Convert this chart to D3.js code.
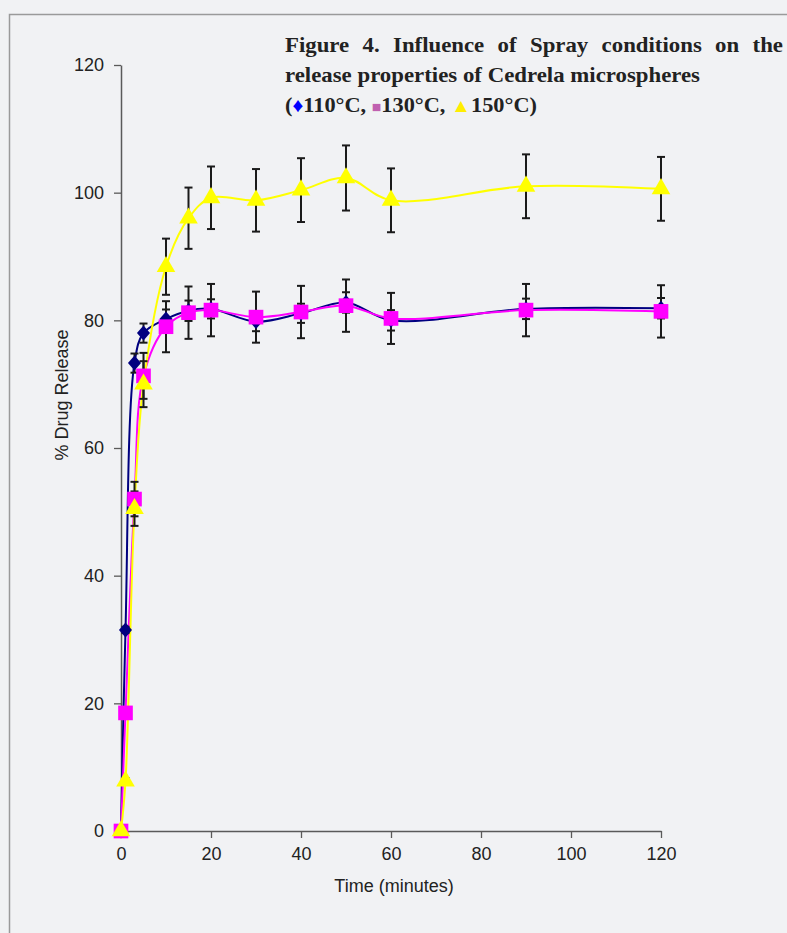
<!DOCTYPE html>
<html>
<head>
<meta charset="utf-8">
<script src="https://cdn.jsdelivr.net/npm/d3@7"></script>
<style>
  body { margin: 0; background: #f1f2f4; }
  svg { display: block; }
</style>
</head>
<body>
<svg></svg>
<script>
var width = 787;
var height = 933;

// sampling times (minutes)
var times = [0, 1, 3, 5, 10, 15, 20, 30, 40, 50, 60, 90, 120];

// % drug release for each spray temperature
var rel110 = [0, 31.5, 73.3, 78.0, 80.2, 81.5, 81.8, 79.8, 81.1, 82.8, 80.0, 81.8, 81.9];
var rel130 = [0, 18.5, 52.0, 71.3, 79.0, 81.2, 81.6, 80.5, 81.3, 82.3, 80.3, 81.6, 81.4];
var rel150 = [0, 7.8, 50.5, 70.0, 88.4, 96.0, 99.2, 98.8, 100.4, 102.3, 98.8, 101.0, 100.6];

// error bars (+/-)
var err110 = [0, 0.5, 1.5, 1.5, 1.5, 1.6, 1.5, 1.5, 1.5, 1.6, 1.6, 1.6, 1.6];
var err130 = [0, 0.5, 2.7, 3.6, 4.0, 4.1, 4.1, 4.0, 4.1, 4.1, 4.0, 4.1, 4.1];
var err150 = [0, 0.5, 2.7, 3.6, 4.4, 4.8, 4.9, 4.9, 5.0, 5.1, 5.0, 5.0, 5.0];

var xTicks = [0, 20, 40, 60, 80, 100, 120];
var yTicks = [0, 20, 40, 60, 80, 100, 120];

var titleLines = [
  "Figure 4. Influence of Spray conditions on the",
  "release properties of Cedrela microspheres"
];

// Excel-style diamond: a little wider than d3's
var wideDiamond = {
  draw: function (context, size) {
    var h = Math.sqrt(size) * 0.75, w = h * 0.87;
    context.moveTo(0, -h);
    context.lineTo(w, 0);
    context.lineTo(0, h);
    context.lineTo(-w, 0);
    context.closePath();
  }
};

var series = [
  { name: "110°C", values: rel110, errs: err110, color: "#000080", shape: wideDiamond, size: 100 },
  { name: "130°C", values: rel130, errs: err130, color: "#ff00ff", shape: d3.symbolSquare, size: 215 },
  { name: "150°C", values: rel150, errs: err150, color: "#ffff00", shape: d3.symbolTriangle, size: 150 }
];

var svg = d3.select("svg")
            .attr("width", width)
            .attr("height", height);

svg.append("rect")
    .attr("width", width)
    .attr("height", height)
    .attr("fill", "#f1f2f4");

// frame
svg.append("path")
    .attr("d", "M9.5," + height + "V14.5H" + width)
    .attr("fill", "none")
    .attr("stroke", "#9a9a9a")
    .attr("stroke-width", 1.5);

var xScale = d3.scaleLinear()
                .domain([0, 120])
                .range([121, 661]);

var yScale = d3.scaleLinear()
                .domain([0, 120])
                .range([831, 65]);

var xAxis = d3.axisBottom(xScale)
              .tickValues(xTicks)
              .tickSize(7)
              .tickPadding(9)
              .tickSizeOuter(0);

var yAxis = d3.axisLeft(yScale)
              .tickValues(yTicks)
              .tickSize(7)
              .tickPadding(10)
              .tickSizeOuter(0);

var gx = svg.append("g")
    .attr("transform", "translate(0,831)")
    .call(xAxis);

var gy = svg.append("g")
    .attr("transform", "translate(121,0)")
    .call(yAxis);

[gx, gy].forEach(function (g) {
  g.select(".domain").attr("stroke", "#5a5a5a").attr("stroke-width", 1.5);
  g.selectAll(".tick line").attr("stroke", "#5a5a5a").attr("stroke-width", 1.3);
  g.selectAll(".tick text")
    .attr("font-family", "'Liberation Sans', Arial, sans-serif")
    .attr("font-size", 18)
    .attr("fill", "#222");
});

// lines
var line = d3.line()
             .x(function (d) { return xScale(d.t); })
             .y(function (d) { return yScale(d.v); })
             .curve(d3.curveCatmullRom.alpha(0.5));

series.forEach(function (s) {
  s.points = times.map(function (t, i) { return { t: t, v: s.values[i], e: s.errs[i] }; });
});

series.forEach(function (s) {
  svg.append("path")
      .datum(s.points)
      .attr("d", line)
      .attr("fill", "none")
      .attr("stroke", s.color)
      .attr("stroke-width", 2);
});

// error bars
series.forEach(function (s) {
  var g = svg.append("g")
      .attr("stroke", "#1a1a1a")
      .attr("stroke-width", 2)
      .attr("fill", "none");
  var bars = g.selectAll("g")
      .data(s.points.filter(function (d) { return d.e > 0; }))
      .enter()
      .append("g");
  bars.append("line")
      .attr("x1", function (d) { return xScale(d.t); })
      .attr("x2", function (d) { return xScale(d.t); })
      .attr("y1", function (d) { return yScale(d.v + d.e); })
      .attr("y2", function (d) { return yScale(d.v - d.e); });
  bars.append("line")
      .attr("x1", function (d) { return xScale(d.t) - 4; })
      .attr("x2", function (d) { return xScale(d.t) + 4; })
      .attr("y1", function (d) { return yScale(d.v + d.e); })
      .attr("y2", function (d) { return yScale(d.v + d.e); });
  bars.append("line")
      .attr("x1", function (d) { return xScale(d.t) - 4; })
      .attr("x2", function (d) { return xScale(d.t) + 4; })
      .attr("y1", function (d) { return yScale(d.v - d.e); })
      .attr("y2", function (d) { return yScale(d.v - d.e); });
});

// markers
series.forEach(function (s) {
  svg.append("g")
    .selectAll("path")
    .data(s.points)
    .enter()
    .append("path")
      .attr("transform", function (d) {
        return "translate(" + xScale(d.t) + "," + yScale(d.v) + ")";
      })
      .attr("d", d3.symbol().type(s.shape).size(s.size))
      .attr("fill", s.color);
});

// axis titles
svg.append("text")
    .attr("x", 394)
    .attr("y", 892)
    .attr("text-anchor", "middle")
    .attr("font-family", "'Liberation Sans', Arial, sans-serif")
    .attr("font-size", 18)
    .attr("fill", "#222")
    .text("Time (minutes)");

svg.append("text")
    .attr("transform", "translate(68,395) rotate(-90)")
    .attr("text-anchor", "middle")
    .attr("font-family", "'Liberation Sans', Arial, sans-serif")
    .attr("font-size", 18)
    .attr("fill", "#222")
    .text("% Drug Release");

// figure caption: glyphs widened to match the original face, first line justified
var titleFont = "'Liberation Serif', 'DejaVu Serif', serif";
var left = 285, right = 783;
var widen = 1;

function caption(str, y, justify, targetWidth) {
  var words = str.split(" ");
  var g = svg.append("g")
      .attr("font-family", titleFont)
      .attr("font-weight", "bold")
      .attr("font-size", 21)
      .attr("fill", "#222");
  var nodes = words.map(function (w) {
    return g.append("text").attr("y", y).text(w);
  });
  var widths = nodes.map(function (n) { return n.node().getComputedTextLength(); });
  var space = 5.3;
  if (targetWidth) {
    widen = targetWidth / (d3.sum(widths) + space * (words.length - 1));
  }
  widths = widths.map(function (w) { return w * widen; });
  var gap = justify ? (right - left - d3.sum(widths)) / (words.length - 1) : space * widen;
  var x = left;
  nodes.forEach(function (n, i) {
    n.attr("x", x)
     .attr("textLength", widths[i])
     .attr("lengthAdjust", "spacingAndGlyphs");
    x += widths[i] + gap;
  });
}

caption(titleLines[1], 82, false, 415);
caption(titleLines[0], 52, true);

var legend = svg.append("text")
    .attr("x", left)
    .attr("y", 112)
    .attr("font-family", titleFont)
    .attr("font-weight", "bold")
    .attr("font-size", 21)
    .attr("fill", "#222");
legend.append("tspan").text("(");
legend.append("tspan").attr("fill", "#0000ff").attr("font-size", 20).text("\u2666");
legend.append("tspan").text(series[0].name + ", ");
legend.append("tspan").attr("fill", "#c060b0").attr("font-size", 15).text("\u25A0");
legend.append("tspan").text(series[1].name + ", ");
legend.append("tspan").attr("fill", "#ffee00").attr("font-size", 19).text("\u25B2");
legend.append("tspan").text(series[2].name + ")");
legend.attr("textLength", 252).attr("lengthAdjust", "spacingAndGlyphs");
</script>
</body>
</html>
